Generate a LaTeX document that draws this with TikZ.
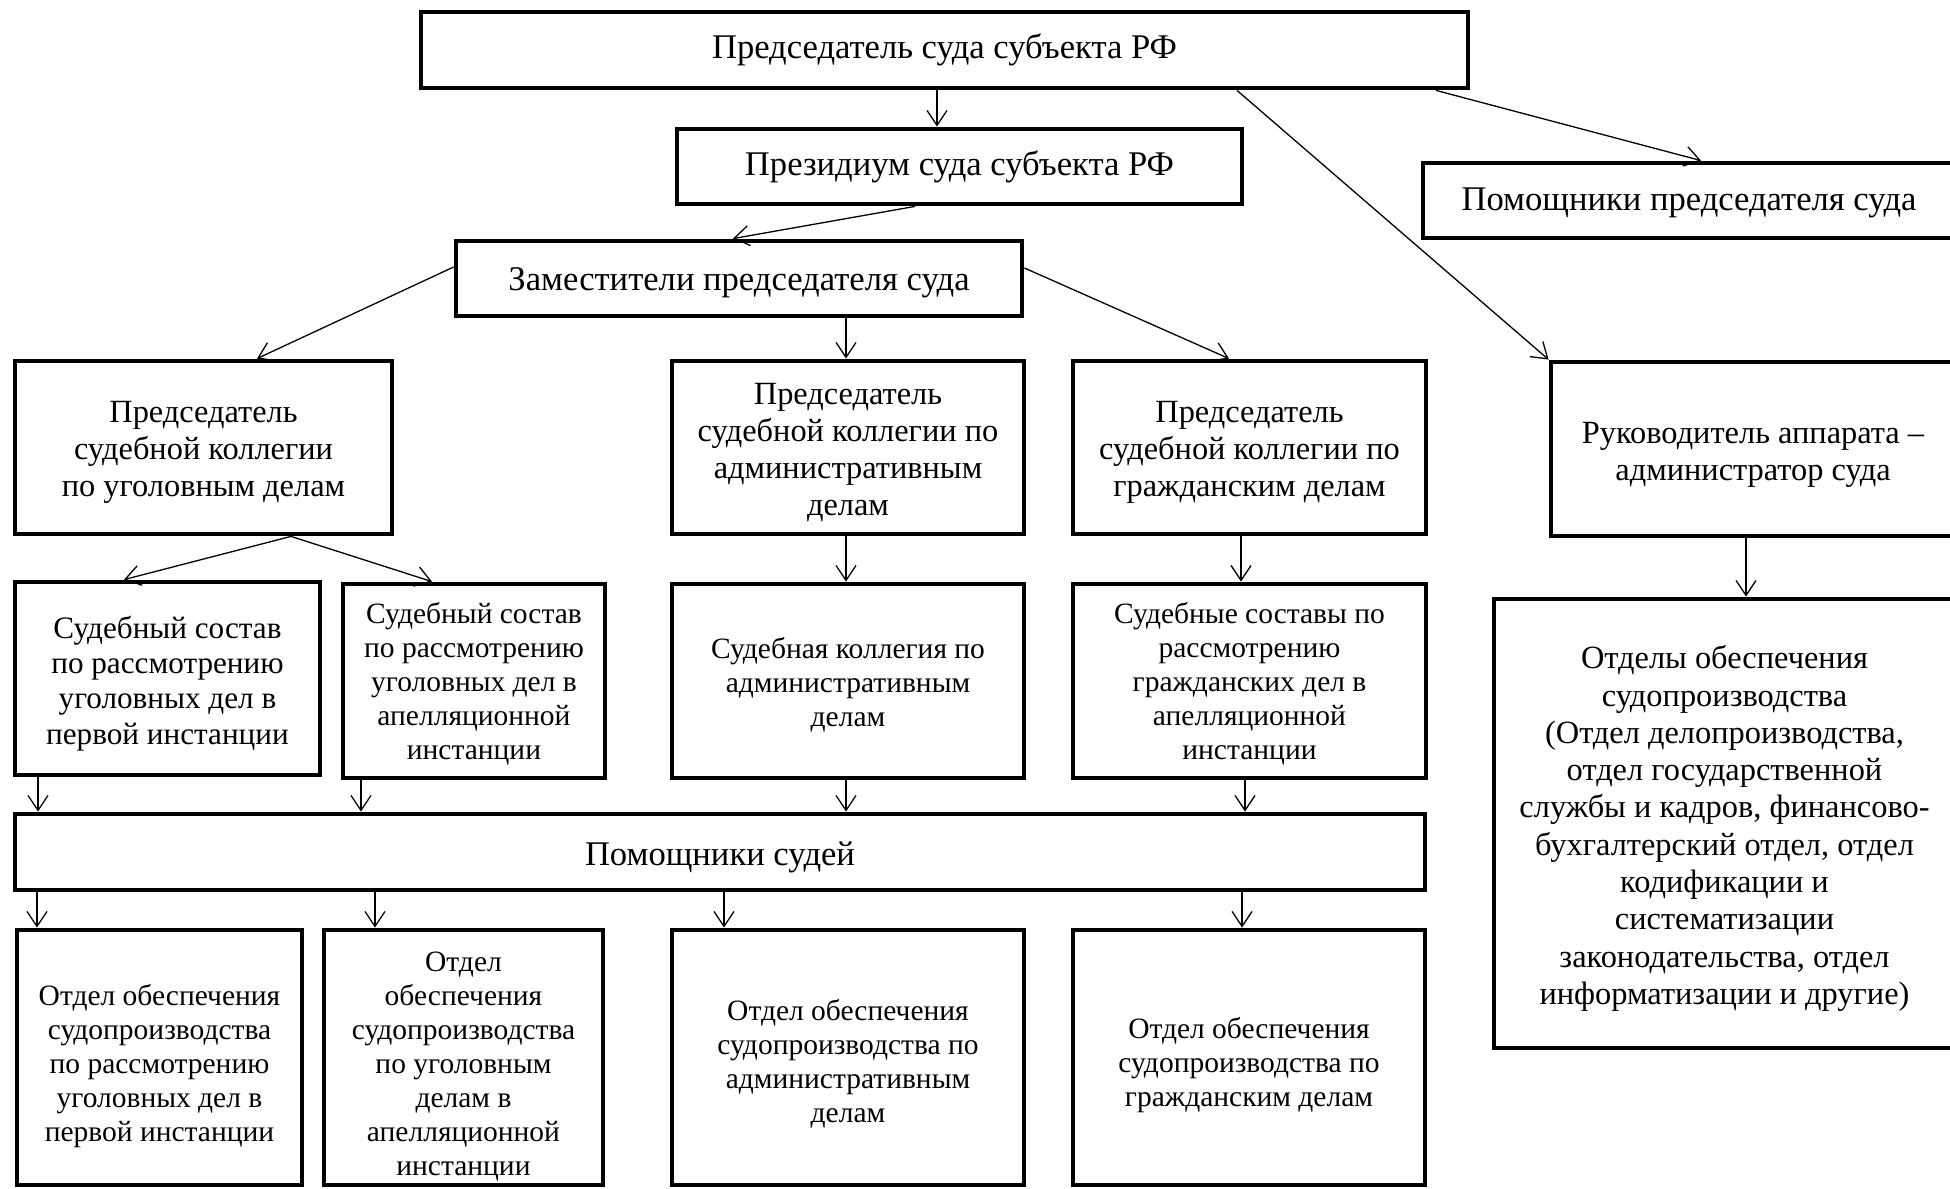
\documentclass[tikz,border=0pt]{standalone}
\usepackage{fontspec}
\setmainfont{Liberation Serif}
\usetikzlibrary{arrows.meta}
\tikzset{
  box/.style={draw, line width=2.4pt, inner sep=0pt, fill=white},
  fA/.style={font=\fontsize{17.3}{19.9}\selectfont, align=center, inner sep=0pt},
  fB/.style={font=\fontsize{16.2}{18.65}\selectfont, align=center, inner sep=0pt},
  fC/.style={font=\fontsize{15.6}{17.6}\selectfont, align=center, inner sep=0pt},
  fD/.style={font=\fontsize{14.75}{17}\selectfont, align=center, inner sep=0pt},
  arr/.style={line width=0.65pt, -{Straight Barb[length=7.5pt,width=10pt,line width=0.65pt]}}
}
\begin{document}
\begin{tikzpicture}[x=0.5pt,y=-0.5pt]
\useasboundingbox (0,0) rectangle (1950,1189);
% top level
\node[box,minimum width=523.5pt,minimum height=38pt,
  label={[fA]center:Председатель суда субъекта РФ}] (top) at (944.5,50) {};
\node[box,minimum width=282.5pt,minimum height=37.5pt,
  label={[fA]center:Президиум суда субъекта РФ}] (prez) at (959.5,166.5) {};
\node[box,minimum width=266pt,minimum height=37.5pt,
  label={[fA,yshift=-1.2pt]center:Помощники председателя суда}] (pomPred) at (1689,200.5) {};
\node[box,minimum width=283pt,minimum height=37.5pt,
  label={[fA,yshift=-2pt]center:Заместители председателя суда}] (zam) at (739,278.5) {};
% chairs of collegia
\node[box,minimum width=188.5pt,minimum height=86.5pt,
  label={[fB,yshift=-2.5pt]center:Председатель\\судебной коллегии\\по уголовным делам}] (predUg) at (203.5,447.5) {};
\node[box,minimum width=176pt,minimum height=86.5pt,
  label={[fB,yshift=-2.5pt]center:Председатель\\судебной коллегии по\\административным\\делам}] (predAdm) at (848,447.5) {};
\node[box,minimum width=176.5pt,minimum height=86.5pt,
  label={[fB,yshift=-2.5pt]center:Председатель\\судебной коллегии по\\гражданским делам}] (predGr) at (1249.5,447.5) {};
\node[box,minimum width=202pt,minimum height=87pt,
  label={[fB,yshift=-3pt]center:Руководитель аппарата –\\администратор суда}] (ruk) at (1753,449) {};
% compositions
\node[box,minimum width=152.5pt,minimum height=96.5pt,
  label={[fC,yshift=-2.5pt]center:Судебный состав\\по рассмотрению\\уголовных дел в\\первой инстанции}] (sost1) at (167.5,678.5) {};
\node[box,minimum width=131pt,minimum height=97pt,
  label={[fD,yshift=-1.2pt]center:Судебный состав\\по рассмотрению\\уголовных дел в\\апелляционной\\инстанции}] (sostAp) at (474,681) {};
\node[box,minimum width=176pt,minimum height=97pt,
  label={[fD,yshift=-2pt]center:Судебная коллегия по\\административным\\делам}] (kolAdm) at (848,681) {};
\node[box,minimum width=176.5pt,minimum height=97pt,
  label={[fD,yshift=-1.2pt]center:Судебные составы по\\рассмотрению\\гражданских дел в\\апелляционной\\инстанции}] (sostGr) at (1249.5,681) {};
\node[box,minimum width=230.5pt,minimum height=224.5pt,
  label={[fB,yshift=-2.5pt]center:Отделы обеспечения\\судопроизводства\\(Отдел делопроизводства,\\отдел государственной\\службы и кадров, финансово-\\бухгалтерский отдел, отдел\\кодификации и\\систематизации\\законодательства, отдел\\информатизации и другие)}] (otdely) at (1724.5,823.5) {};
% assistants
\node[box,minimum width=705pt,minimum height=38pt,
  label={[fA,yshift=-2.5pt]center:Помощники судей}] (pomSud) at (720,852) {};
% bottom departments
\node[box,minimum width=142.5pt,minimum height=127.5pt,
  label={[fD,yshift=-4.5pt]center:Отдел обеспечения\\судопроизводства\\по рассмотрению\\уголовных дел в\\первой инстанции}] (otdA) at (159.5,1057.5) {};
\node[box,minimum width=139.5pt,minimum height=127.5pt,
  label={[fD,yshift=-4.5pt]center:Отдел\\обеспечения\\судопроизводства\\по уголовным\\делам в\\апелляционной\\инстанции}] (otdB) at (463.5,1057.5) {};
\node[box,minimum width=176pt,minimum height=127.5pt,
  label={[fD,yshift=-3pt]center:Отдел обеспечения\\судопроизводства по\\административным\\делам}] (otdC) at (848,1057.5) {};
\node[box,minimum width=176pt,minimum height=127.5pt,
  label={[fD,yshift=-3.7pt]center:Отдел обеспечения\\судопроизводства по\\гражданским делам}] (otdD) at (1249,1057.5) {};
% connectors
\draw[arr] (top.south -| 937,0) -- (prez.north -| 937,0);
\draw[arr] (prez.south -| 915,0) -- (zam.north -| 733,0);
\draw[arr] (top.south -| 1436,0) -- (pomPred.north -| 1701,0);
\draw[arr] (top.south -| 1237,0) -- (ruk.north west);
\draw[arr] (zam.west |- 0,267) -- (predUg.north -| 257,0);
\draw[arr] (zam.south -| 846,0) -- (predAdm.north -| 846,0);
\draw[arr] (zam.east |- 0,268) -- (predGr.north -| 1229,0);
\draw[arr] (predUg.south -| 291,0) -- (sost1.north -| 124,0);
\draw[arr] (predUg.south -| 291,0) -- (sostAp.north -| 432,0);
\draw[arr] (predAdm.south -| 846,0) -- (kolAdm.north -| 846,0);
\draw[arr] (predGr.south -| 1241,0) -- (sostGr.north -| 1241,0);
\draw[arr] (ruk.south -| 1746,0) -- (otdely.north -| 1746,0);
\draw[arr] (sost1.south -| 38,0) -- (pomSud.north -| 38,0);
\draw[arr] (sostAp.south -| 361,0) -- (pomSud.north -| 361,0);
\draw[arr] (kolAdm.south -| 846,0) -- (pomSud.north -| 846,0);
\draw[arr] (sostGr.south -| 1245,0) -- (pomSud.north -| 1245,0);
\draw[arr] (pomSud.south -| 37,0) -- (otdA.north -| 37,0);
\draw[arr] (pomSud.south -| 375,0) -- (otdB.north -| 375,0);
\draw[arr] (pomSud.south -| 724,0) -- (otdC.north -| 724,0);
\draw[arr] (pomSud.south -| 1242,0) -- (otdD.north -| 1242,0);
\end{tikzpicture}
\end{document}
